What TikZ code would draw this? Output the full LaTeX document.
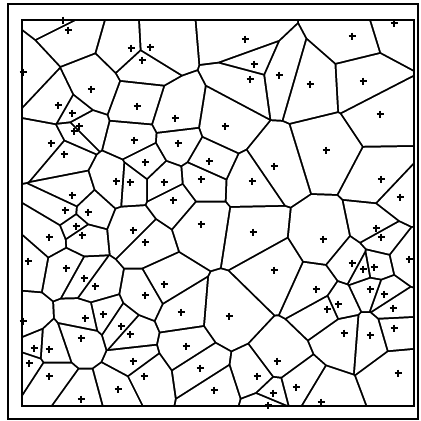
\documentclass[tikz,border=0pt]{standalone}
\usetikzlibrary{calc}
\makeatletter
\def\sitelist{63/20,68/30,131/48,142/60,150/47,23/72,91/89,58/105,137/106,245/39,254/64,250/79,279/75,394/23,352/36,310/84,363/81,72/113,74/131,79/126,51/143,64/154,134/140,116/181,130/182,72/195,65/210,88/212,175/118,225/126,178/143,145/162,209/161,274/166,164/182,201/179,252/181,173/200,380/114,326/150,381/179,400/197,76/226,82/235,49/237,133/230,145/242,28/261,66/268,84/278,95/286,103/314,201/224,253/232,274/270,164/284,145/295,181/312,229/316,323/239,376/228,381/237,409/259,352/263,363/269,374/267,316/289,370/289,384/294,338/304,327/309,393/308,23/321,85/318,121/326,130/334,81/338,34/348,49/349,29/363,133/361,144/376,49/376,118/389,81/399,186/346,200/368,277/361,257/376,214/390,273/393,268/405,394/328,344/333,370/335,398/373,296/387,321/402}
\newcount\sitecnt \newcount\sitedx \newcount\sitedy
\def\idxlist{}
\def\sitesplit#1/#2\relax{%
  \global\advance\sitecnt by 1
  \expandafter\xdef\csname sitex@\the\sitecnt\endcsname{#1}%
  \expandafter\xdef\csname sitey@\the\sitecnt\endcsname{#2}%
  \ifx\idxlist\@empty\xdef\idxlist{\the\sitecnt}\else\xdef\idxlist{\idxlist,\the\sitecnt}\fi}
\@for\sitetmp:=\sitelist\do{\expandafter\sitesplit\sitetmp\relax}
\def\cellclips{%
  \@for\sj:=\idxlist\do{%
    \ifnum\sj=\si\relax\else
      \sitedx=\numexpr\csname sitex@\si\endcsname-\csname sitex@\sj\endcsname\relax
      \sitedy=\numexpr\csname sitey@\si\endcsname-\csname sitey@\sj\endcsname\relax
      \ifnum\numexpr\sitedx*\sitedx+\sitedy*\sitedy\relax<16900\relax
        \coordinate (cc) at ($(p\si)!0.5!(p\sj)!1.0pt!(p\si)$);
        \clip ($(cc)!3000pt!90:(p\si)$) -- ($(cc)!3000pt!(p\si)$) -- ($(cc)!3000pt!-90:(p\si)$) -- cycle;
      \fi
    \fi}}
\def\placesites{\@for\si:=\idxlist\do{\coordinate (p\si) at (\csname sitex@\si\endcsname,\csname sitey@\si\endcsname);}}
\tikzset{plusmark/.style={line width=1.7pt,black},
  outerframe/.style={line width=1.2pt,black},
  innerframe/.style={line width=1.8pt,black}}
\begin{document}
\begin{tikzpicture}[x=1pt,y=-1pt]
\useasboundingbox (0,0) rectangle (421,421);
\fill[white] (0,0) rectangle (421,421);
\placesites
\fill[black] (22,20) rectangle (414,406);
\foreach \si in \idxlist {%
  \begin{scope}
    \cellclips
    \fill[white] (22,20) rectangle (414,406);
  \end{scope}
}
\draw[innerframe] (22,20) rectangle (414,406);
\draw[outerframe] (8,4) rectangle (418,419);
\foreach \si in \idxlist {%
  \draw[plusmark] ($(p\si)+(-3.5,0)$) -- ($(p\si)+(3.5,0)$) ($(p\si)+(0,-3.5)$) -- ($(p\si)+(0,3.5)$);
}
\end{tikzpicture}
\end{document}
